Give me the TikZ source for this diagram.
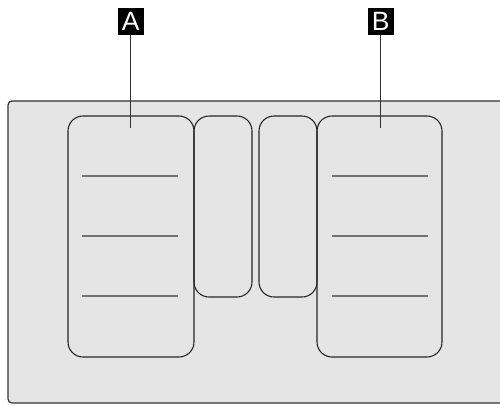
\documentclass[tikz,border=0pt]{standalone}
\usepackage{fontspec}
\setmainfont{Liberation Sans}
\begin{document}
\begin{tikzpicture}[x=1pt,y=-1pt,
  panel/.style={draw=black!85,line width=1.1pt,rounded corners=15pt},
  slot/.style={draw=black!55,line width=1.3pt},
  tag/.style={fill=black,text=white,inner sep=0pt,minimum width=25.5pt,minimum height=27pt,font=\fontsize{26.5}{26.5}\selectfont},
  leader/.style={draw=black!80,line width=0.9pt}]
\useasboundingbox (0,0) rectangle (500,405);
\draw[fill=black!10,draw=black!80,line width=1.2pt,rounded corners=4pt] (8,101) rectangle (520,403);
\draw[panel] (68,116) rectangle (194,357);
\draw[panel] (194,116) rectangle (252,297);
\draw[panel] (259,116) rectangle (317,297);
\draw[panel] (317,116) rectangle (442,357);
\foreach \y in {176,236,296}{
  \draw[slot] (82,\y) -- (178,\y);
  \draw[slot] (332,\y) -- (428,\y);
}
\node[tag] (a) at (130.8,21.5) {\raisebox{-2pt}{A}};
\node[tag] (b) at (380.8,21.5) {\raisebox{-2pt}{B}};
\coordinate (ae) at (130.5,128);
\coordinate (be) at (380.5,128);
\draw[leader] (a.south -| ae) -- (ae);
\draw[leader] (b.south -| be) -- (be);
\end{tikzpicture}
\end{document}
